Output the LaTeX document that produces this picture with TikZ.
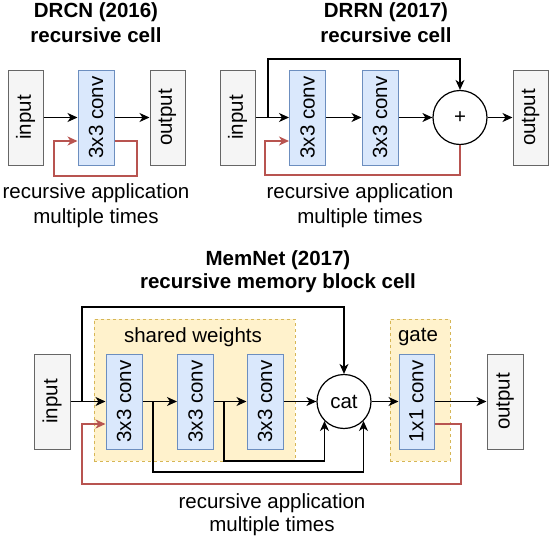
\documentclass[tikz,border=0pt]{standalone}
\usepackage{fontspec}
\setmainfont{Liberation Sans}
\usepackage{graphicx}
\usetikzlibrary{arrows.meta,calc}
\definecolor{grayfill}{HTML}{F5F5F5}
\definecolor{graydraw}{HTML}{666666}
\definecolor{bluefill}{HTML}{DAE8FC}
\definecolor{bluedraw}{HTML}{6C8EBF}
\definecolor{yelfill}{HTML}{FFF2CC}
\definecolor{yeldraw}{HTML}{D6B656}
\definecolor{redline}{HTML}{B85450}
\tikzset{
 base/.style={font=\fontsize{20.5}{24}\selectfont, inner sep=0pt},
 iobox/.style={base, draw=graydraw, fill=grayfill, line width=1pt, minimum width=35pt, minimum height=95pt},
 convbox/.style={base, draw=bluedraw, fill=bluefill, line width=1pt, minimum width=36pt, minimum height=95pt},
 groupbox/.style={draw=yeldraw, fill=yelfill, dash pattern=on 3pt off 3pt, line width=1pt, inner sep=0pt},
 opnode/.style={base, circle, draw, line width=1.2pt, minimum size=54pt},
 title/.style={font=\bfseries\fontsize{20.5}{24}\selectfont, inner sep=0pt},
 lbl/.style={base},
 arr/.style={-{Stealth[length=10pt,width=9pt,inset=3pt]}, line width=1.2pt},
 recur/.style={arr, draw=redline, line width=1.8pt},
}
\begin{document}
\begin{tikzpicture}[x=1pt,y=-1pt]
\useasboundingbox (0,0) rectangle (550,538);
% DRCN
\node[title] (t1a) at (96,12) {DRCN (2016)};
\node[title] (t1b) at (96,35) {recursive cell};
\node[iobox] (in1) at (25.5,117.5) {\rotatebox{90}{input}};
\node[convbox] (c1) at (96,117.5) {\rotatebox{90}{3x3 conv}};
\node[iobox] (out1) at (167.5,117.5) {\rotatebox{90}{output}};
\draw[arr] (in1) -- (c1);
\draw[arr] (c1) -- (out1);
\draw[recur] ([yshift=-23.5pt]c1.east) -| (137,176) -| (54,141) -- ([yshift=-23.5pt]c1.west);
\node[lbl] (r1a) at (96,193) {recursive application};
\node[lbl] (r1b) at (96,218) {multiple times};
% DRRN
\node[title] (t2a) at (386,12) {DRRN (2017)};
\node[title] (t2b) at (386,35) {recursive cell};
\node[iobox] (in2) at (237.5,117.5) {\rotatebox{90}{input}};
\node[convbox] (c2a) at (307.5,117.5) {\rotatebox{90}{3x3 conv}};
\node[convbox] (c2b) at (380,117.5) {\rotatebox{90}{3x3 conv}};
\node[opnode] (plus) at (460,117.5) {+};
\node[iobox] (out2) at (530.5,117.5) {\rotatebox{90}{output}};
\coordinate (j2) at (268,117.5);
\draw[arr] (in2) -- (c2a);
\draw[arr] (c2a) -- (c2b);
\draw[arr] (c2b) -- (plus);
\draw[arr] (plus) -- (out2);
\draw[arr] (j2) -- (268,59) -| (plus.north);
\draw[recur] (plus.south) |- (265,175) |- ([yshift=-23.5pt]c2a.west);
\node[lbl] (r2a) at (360,193) {recursive application};
\node[lbl] (r2b) at (360,218) {multiple times};
% MemNet
\node[title] (t3a) at (278,260) {MemNet (2017)};
\node[title] (t3b) at (278,283) {recursive memory block cell};
\node[groupbox, minimum width=201pt, minimum height=142pt] (sw) at (194.5,390) {};
\node[groupbox, minimum width=60pt, minimum height=142pt] (gt) at (420,390) {};
\node[lbl] (swl) at (193,337) {shared weights};
\node[lbl] (gtl) at (418,337) {gate};
\node[iobox, minimum width=36pt] (in3) at (52,401.5) {\rotatebox{90}{input}};
\node[convbox] (m1) at (124,401.5) {\rotatebox{90}{3x3 conv}};
\node[convbox] (m2) at (195.5,401.5) {\rotatebox{90}{3x3 conv}};
\node[convbox] (m3) at (265,401.5) {\rotatebox{90}{3x3 conv}};
\node[opnode] (cat) at (344,401.5) {cat};
\node[convbox, minimum width=35pt] (g1) at (416.5,401.5) {\rotatebox{90}{1x1 conv}};
\node[iobox, minimum width=36pt] (out3) at (505,401.5) {\rotatebox{90}{output}};
\draw[arr] (in3) -- (m1);
\draw[arr] (m1) -- (m2);
\draw[arr] (m2) -- (m3);
\draw[arr] (m3) -- (cat);
\draw[arr] (cat) -- (g1);
\draw[arr] (g1) -- (out3);
\coordinate (j3) at (82,401.5);
\coordinate (j3a) at (153,401.5);
\coordinate (j3b) at (224,401.5);
\draw[arr] (j3) -- (82,307) -| (cat.north);
\draw[arr] (j3a) -- (153,472) -| (cat.-45);
\draw[arr] (j3b) -- (224,461) -| (cat.-135);
\draw[recur] ([yshift=-22.5pt]g1.east) -| (461,484) -| (82,424) -- ([yshift=-22.5pt]m1.west);
\node[lbl] (r3a) at (272,503) {recursive application};
\node[lbl] (r3b) at (272,526) {multiple times};
\end{tikzpicture}
\end{document}
